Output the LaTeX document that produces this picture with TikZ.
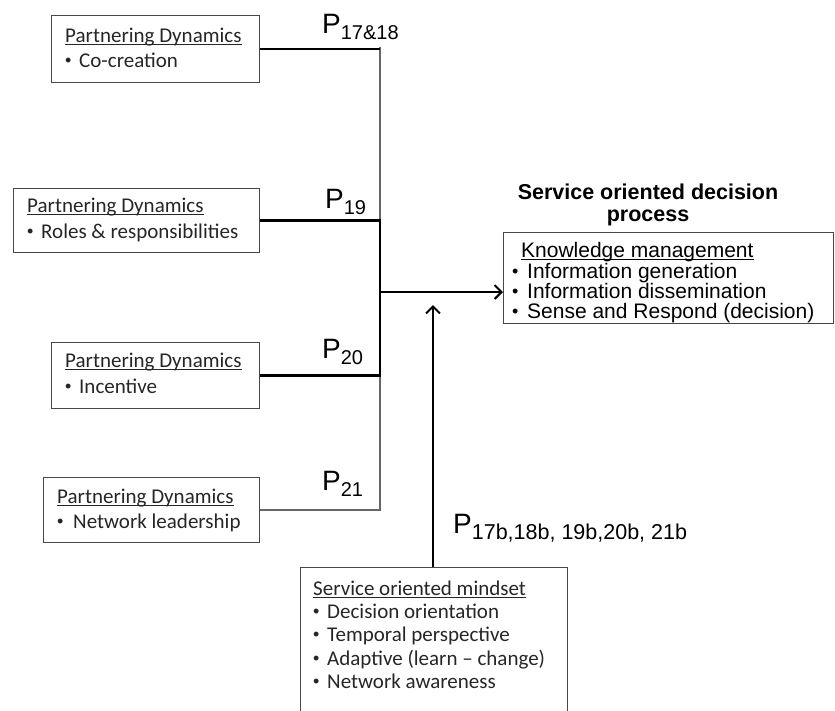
\documentclass[tikz,border=0pt]{standalone}
\usepackage{fontspec}
\setmainfont{Carlito}
\newfontfamily\arialfont{Liberation Sans}
\usetikzlibrary{arrows.meta}

% bullet followed by a fixed gap, as in the slide boxes
\newcommand\bulitem[1][14pt]{\makebox[#1][l]{\raisebox{0.3pt}{\arialfont\fontsize{18}{18}\selectfont\textbullet}}}
% underline set close to the baseline, crossing descenders
\newcommand\underl[1]{\setbox0\hbox{#1}\rlap{\rule[-2.4pt]{\wd0}{0.9pt}}\box0}
% proposition label: large P with lowered index
\newcommand\proplabel[2][20]{{\fontsize{28}{28}\selectfont P}\raisebox{-6pt}{\fontsize{#1}{#1}\selectfont #2}}

\begin{document}
\begin{tikzpicture}[x=1pt,y=-1pt,
  boxframe/.style={draw=black!72, line width=0.9pt, rectangle, anchor=north west, inner sep=0pt},
  pdtext/.style={font=\fontsize{21}{25}\selectfont, anchor=base west, inner sep=0pt, text=black!85},
  kmtext/.style={font=\arialfont\fontsize{21}{21}\selectfont, anchor=base west, inner sep=0pt},
  title/.style={font=\arialfont\bfseries\fontsize{21.5}{22}\selectfont, anchor=base, inner sep=0pt},
  plab/.style={font=\arialfont, anchor=base west, inner sep=0pt},
  link/.style={draw=black, line width=2.4pt},
  buslink/.style={draw=black!60, line width=2pt},
  arrowtip/.style={-{Straight Barb[length=7pt,width=14pt,line width=2pt]}}
]
\useasboundingbox (0,0) rectangle (835,710);

% ---- partnering dynamics boxes ----
\node[boxframe, minimum width=208pt, minimum height=67pt] (pd1) at (51,15) {};
\node[pdtext] (pd1h) at (65,42) {\underl{Partnering Dynamics}};
\node[pdtext] (pd1a) at (65,67) {\bulitem Co-creation};

\node[boxframe, minimum width=246pt, minimum height=64pt] (pd2) at (13,188) {};
\node[pdtext] (pd2h) at (27,212) {\underl{Partnering Dynamics}};
\node[pdtext] (pd2a) at (27,238) {\bulitem Roles \& responsibilities};

\node[boxframe, minimum width=208pt, minimum height=66pt] (pd3) at (51,342) {};
\node[pdtext] (pd3h) at (65,367) {\underl{Partnering Dynamics}};
\node[pdtext] (pd3a) at (65,393) {\bulitem Incentive};

\node[boxframe, minimum width=216pt, minimum height=65pt] (pd4) at (43,477) {};
\node[pdtext] (pd4h) at (57,503) {\underl{Partnering Dynamics}};
\node[pdtext] (pd4a) at (57,528) {\bulitem[16pt]Network leadership};

% ---- proposition labels ----
\node[plab] (p1) at (322,33) {\proplabel{17\&18}};
\node[plab] (p2) at (325,208) {\proplabel{19}};
\node[plab] (p3) at (322,358) {\proplabel{20}};
\node[plab] (p4) at (322,490) {\proplabel{21}};
\node[plab] (p5) at (453,533) {\proplabel[21.5]{17b,18b, 19b,20b, 21b}};

% ---- decision process ----
\node[title] (t1) at (648,199) {Service oriented decision};
\node[title] (t2) at (648,221) {process};
\node[boxframe, minimum width=330pt, minimum height=91pt] (km) at (503,232) {};
\node[kmtext] (kmh) at (521,257) {\underl{Knowledge management}};
\node[kmtext] (km1) at (512,278) {\bulitem[15pt]Information generation};
\node[kmtext] (km2) at (512,298) {\bulitem[15pt]Information dissemination};
\node[kmtext] (km3) at (512,318) {\bulitem[15pt]Sense and Respond (decision)};

% ---- service oriented mindset (box runs past the lower edge) ----
\node[anchor=north west, minimum width=267pt, minimum height=150pt, inner sep=0pt] (som) at (300,567) {};
\draw[draw=black!72, line width=0.9pt] (som.south west) |- (som.north east) -- (som.south east);
\node[pdtext] (somh) at (313,595) {\underl{Service oriented mindset}};
\node[pdtext] (som1) at (313,618) {\bulitem Decision orientation};
\node[pdtext] (som2) at (313,641) {\bulitem Temporal perspective};
\node[pdtext] (som3) at (313,665) {\bulitem Adaptive (learn -- change)};
\node[pdtext] (som4) at (313,688) {\bulitem Network awareness};

% ---- connectors ----
\coordinate (bus) at (380,47);
\coordinate (join) at (380,292);
\coordinate (tip) at (433,305);

\draw[buslink] (bus) -- (pd2.east -| bus);
\draw[buslink] (pd3.east -| bus) -- (pd4.east -| bus) -- (pd4.east);
\draw[link] (pd1.east) -- (pd1.east -| bus);
\draw[link] (pd2.east) -- (pd2.east -| bus) -- (pd3.east -| bus) -- (pd3.east);

\draw[draw=black, line width=2pt, arrowtip] (join) -- (join -| km.west);
\draw[draw=black, line width=1.5pt, arrowtip] (tip |- som.north) -- (tip);
\end{tikzpicture}
\end{document}
